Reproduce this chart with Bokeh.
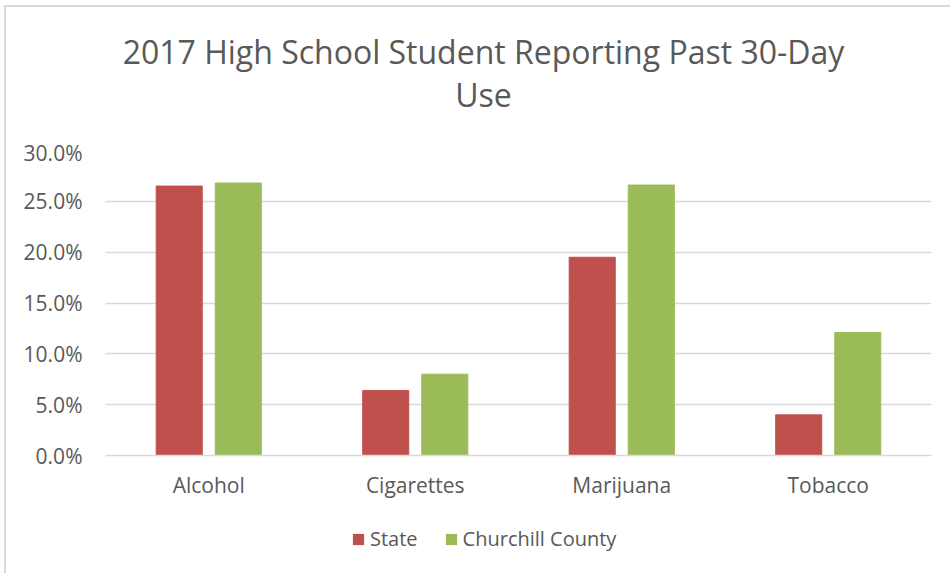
from bokeh.plotting import figure
from bokeh.layouts import column
from bokeh.models import (ColumnDataSource, FactorRange, Range1d, FixedTicker,
                          NumeralTickFormatter, Label, Legend, LegendItem)
from bokeh.transform import dodge
from bokeh.embed import file_html
from bokeh.resources import INLINE

categories = ["Alcohol", "Cigarettes", "Marijuana", "Tobacco"]
state = [0.265, 0.064, 0.195, 0.040]
churchill = [0.268, 0.080, 0.266, 0.121]
y_ticks = [0.0, 0.05, 0.10, 0.15, 0.20, 0.25, 0.30]
series_names = ["State", "Churchill County"]
title_line1 = "2017 High School Student Reporting Past 30-Day"
title_line2 = "Use"

RED = "#C0504D"
GREEN = "#9BBB59"
GRID = "#D9D9D9"
TXT = "#595959"
FONT = "Open Sans"


def clear_bg(fig):
    fig.border_fill_color = None
    fig.background_fill_color = None


def blank(fig):
    fig.axis.visible = False
    fig.grid.visible = False
    fig.outline_line_color = None
    clear_bg(fig)


# title strip
tt = figure(width=950, height=138, output_backend="svg", toolbar_location=None,
            x_range=Range1d(0, 1), y_range=Range1d(0, 1), min_border=0, title=None)
blank(tt)
tt.add_layout(Label(x=378, y=87, x_units="screen", y_units="screen",
                    text=title_line1, text_align="center", text_baseline="alphabetic",
                    text_font=FONT, text_font_size="32px", text_color=TXT))
tt.add_layout(Label(x=378, y=44, x_units="screen", y_units="screen",
                    text=title_line2, text_align="center", text_baseline="alphabetic",
                    text_font=FONT, text_font_size="32px", text_color=TXT))

# main chart
source = ColumnDataSource(data=dict(cat=categories, state=state, churchill=churchill))

p = figure(x_range=FactorRange(factors=categories, range_padding=0),
           y_range=Range1d(0, 0.30),
           width=950, height=377, output_backend="svg", toolbar_location=None,
           min_border_left=105, min_border_right=19, min_border_top=12,
           min_border_bottom=60, title=None)
clear_bg(p)

p.vbar(x=dodge("cat", -0.143, range=p.x_range), top="state", width=0.223,
       source=source, color=RED)
p.vbar(x=dodge("cat", 0.143, range=p.x_range), top="churchill", width=0.223,
       source=source, color=GREEN)

p.outline_line_color = None
p.xgrid.grid_line_color = None
p.ygrid.grid_line_color = GRID
p.ygrid.grid_line_width = 1.5
p.yaxis.ticker = FixedTicker(ticks=y_ticks)
p.yaxis.formatter = NumeralTickFormatter(format="0.0%")
p.yaxis.axis_line_color = None
p.yaxis.major_tick_line_color = None
p.yaxis.minor_tick_line_color = None
p.yaxis.major_label_standoff = 17
p.xaxis.axis_line_color = GRID
p.xaxis.axis_line_width = 1.5
p.xaxis.major_tick_line_color = None
p.xaxis.minor_tick_line_color = None
p.xaxis.major_label_standoff = 9
for ax in (p.xaxis, p.yaxis):
    ax.major_label_text_font = FONT
    ax.major_label_text_font_size = "21px"
    ax.major_label_text_color = TXT

# legend strip below the chart
lg = figure(width=950, height=58, output_backend="svg", toolbar_location=None,
            x_range=Range1d(0, 1), y_range=Range1d(0, 1), min_border=0,
            title=None)
blank(lg)
k1 = lg.vbar(x=[-5], top=[0], width=0.1, fill_color=RED, line_color=None)
k2 = lg.vbar(x=[-5], top=[0], width=0.1, fill_color=GREEN, line_color=None)
legend = Legend(items=[LegendItem(label=series_names[0], renderers=[k1]),
                       LegendItem(label=series_names[1], renderers=[k2])],
                location=(246, 21), orientation="horizontal",
                glyph_width=14, glyph_height=14, label_standoff=5, spacing=26,
                label_height=20, padding=0, margin=0, border_line_color=None,
                background_fill_alpha=0,
                label_text_font=FONT, label_text_font_size="20px",
                label_text_color=TXT)
lg.add_layout(legend, "center")

layout = column(tt, p, lg, spacing=0)
layout.styles = {"background-color": "white",
                 "box-shadow": "inset 4px 5px 0 0 white, inset 6px 7px 0 0 #D9D9D9"}
open("out.html", "w").write(file_html(layout, INLINE))
